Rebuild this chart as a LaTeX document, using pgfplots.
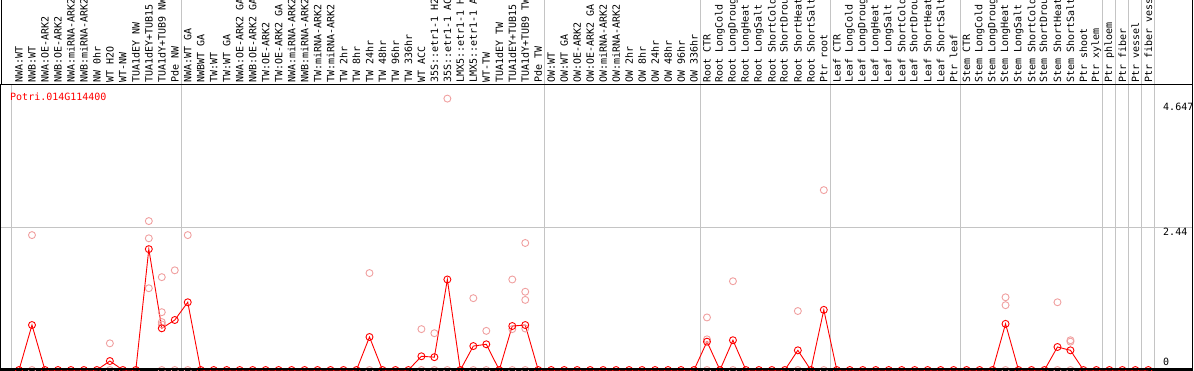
\documentclass[border=0pt]{standalone}
\usepackage{pgfplots}
\pgfplotsset{compat=1.18}
\usepackage{fontspec}
\newfontfamily\mono{DejaVu Sans Mono}
\definecolor{rep}{RGB}{240,160,160}
\definecolor{sep}{RGB}{196,196,196}
\begin{document}
\begin{tikzpicture}[x=1pt,y=1pt]
\useasboundingbox (0,0) rectangle (1194,370);
\clip (0,0) rectangle (1194,370);
\begin{axis}[
  name=ax,
  at={(1pt,0pt)}, anchor=south west,
  scale only axis, width=1191pt, height=285pt,
  xmin=-0.387, xmax=91.37,
  ymin=0, ymax=4.880,
  axis line style={black, line width=1pt},
  xtick={1,...,88},
  xticklabels={NWA:WT,NWB:WT,NWA:OE-ARK2,NWB:OE-ARK2,NWA:miRNA-ARK2,NWB:miRNA-ARK2,NW 0hr,WT H2O,WT-NW,TUA1dEY NW,TUA1dEY+TUB15 NW,TUA1dY+TUB9 NW,Pde NW,
    NWA:WT GA,NWBWT GA,TW:WT,TW:WT GA,NWA:OE-ARK2 GA,NWB:OE-ARK2 GA,TW:OE-ARK2,TW:OE-ARK2 GA,NWA:miRNA-ARK2,NWB:miRNA-ARK2,TW:miRNA-ARK2,TW:miRNA-ARK2,TW 2hr,TW 8hr,TW 24hr,TW 48hr,TW 96hr,TW 336hr,WT ACC,35S::etr1-1 H2O,35S::etr1-1 ACC,LMX5::etr1-1 H2O,LMX5::etr1-1 ACC,WT-TW,TUA1dEY TW,TUA1dEY+TUB15 TW,TUA1dY+TUB9 TW,Pde TW,
    OW:WT,OW:WT GA,OW:OE-ARK2,OW:OE-ARK2 GA,OW:miRNA-ARK2,OW:miRNA-ARK2,OW 2hr,OW 8hr,OW 24hr,OW 48hr,OW 96hr,OW 336hr,
    Root CTR,Root LongCold,Root LongDrought,Root LongHeat,Root LongSalt,Root ShortCold,Root ShortDrought,Root ShortHeat,Root ShortSalt,Ptr root,
    Leaf CTR,Leaf LongCold,Leaf LongDrought,Leaf LongHeat,Leaf LongSalt,Leaf ShortCold,Leaf ShortDrought,Leaf ShortHeat,Leaf ShortSalt,Ptr leaf,
    Stem CTR,Stem LongCold,Stem LongDrought,Stem LongHeat,Stem LongSalt,Stem ShortCold,Stem ShortDrought,Stem ShortHeat,Stem ShortSalt,Ptr shoot,Ptr xylem,Ptr phloem,Ptr fiber,Ptr vessel,Ptr fiber vessel},
  xticklabel pos=upper,
  xticklabel style={rotate=90, anchor=west, font=\mono\fontsize{10}{12}\selectfont, inner xsep=2pt, inner ysep=0pt},
  major tick length=0pt,
  ytick={2.44}, yticklabels={},
  ymajorgrids, grid style={sep, line width=1pt},
  extra x ticks={0.4,13.5,41.5,53.5,63.5,73.5,84.5,85.5,86.5,87.5,88.5},
  extra x tick labels={},
  extra x tick style={grid=major},
  clip marker paths=false,
]
\addplot[only marks, mark=o, mark size=3.5pt, rep, mark options={line width=0.9pt}] table {
x y
2 2.31
2 0
8 0.457
8 0
11 2.55
11 2.255
11 1.40
12 1.59
12 0.99
12 0.82
12 0.78
12 0
13 1.707
13 0
14 2.31
14 0
28 1.66
28 0
32 0.70
32 0
33 0.63
33 0
34 4.647
34 0
36 1.23
36 0
37 0.67
37 0
39 1.55
39 0.70
39 0
40 2.175
40 1.34
40 1.20
40 0.71
40 0
54 0.90
54 0.525
54 0
56 1.52
56 0
61 1.01
61 0
63 3.08
63 0
77 1.245
77 1.11
77 0
81 1.16
81 0
82 0.51
82 0.485
82 0
};
\addplot[red, line width=0.9pt, mark=o, mark size=3.5pt, mark options={line width=0.9pt}] table {
x y
1 0
2 0.77
3 0
4 0
5 0
6 0
7 0
8 0.154
9 0
10 0
11 2.07
12 0.714
13 0.856
14 1.16
15 0
16 0
17 0
18 0
19 0
20 0
21 0
22 0
23 0
24 0
25 0
26 0
27 0
28 0.565
29 0
30 0
31 0
32 0.235
33 0.22
34 1.55
35 0
36 0.41
37 0.44
38 0
39 0.753
40 0.77
41 0
42 0
43 0
44 0
45 0
46 0
47 0
48 0
49 0
50 0
51 0
52 0
53 0
54 0.485
55 0
56 0.51
57 0
58 0
59 0
60 0
61 0.337
62 0
63 1.03
64 0
65 0
66 0
67 0
68 0
69 0
70 0
71 0
72 0
73 0
74 0
75 0
76 0
77 0.79
78 0
79 0
80 0
81 0.394
82 0.337
83 0
84 0
85 0
86 0
87 0
88 0
};
\coordinate (s1) at (axis cs:13.5,4.88);
\coordinate (s2) at (axis cs:41.5,4.88);
\coordinate (s3) at (axis cs:53.5,4.88);
\coordinate (s4) at (axis cs:63.5,4.88);
\coordinate (s5) at (axis cs:73.5,4.88);
\coordinate (s6) at (axis cs:84.5,4.88);
\coordinate (s7) at (axis cs:85.5,4.88);
\coordinate (s8) at (axis cs:86.5,4.88);
\coordinate (s9) at (axis cs:87.5,4.88);
\coordinate (s10) at (axis cs:88.5,4.88);
\end{axis}
\foreach \s in {s1,s2,s3,s4,s5,s6,s7,s8,s9,s10}{
  \draw[sep, line width=1pt] (\s) ++(0,0.5) -- ++(0,90);
}
\draw[black, line width=1.6pt] (0,0.8) -- (1192.5,0.8);
\draw[black, line width=1pt] (ax.north west) -- ++(0,90);
\draw[black, line width=1pt] (ax.north east) -- ++(0,90);
\node[anchor=west, text=red, font=\mono\fontsize{10}{12}\selectfont, inner sep=0pt] at (10,273) {Potri.014G114400};
\node[anchor=west, font=\mono\fontsize{10}{12}\selectfont, inner sep=0pt] at (1163,263) {4.647};
\node[anchor=west, font=\mono\fontsize{10}{12}\selectfont, inner sep=0pt] at (1163,138) {2.44};
\node[anchor=west, font=\mono\fontsize{10}{12}\selectfont, inner sep=0pt] at (1163,8) {0};
\end{tikzpicture}
\end{document}
